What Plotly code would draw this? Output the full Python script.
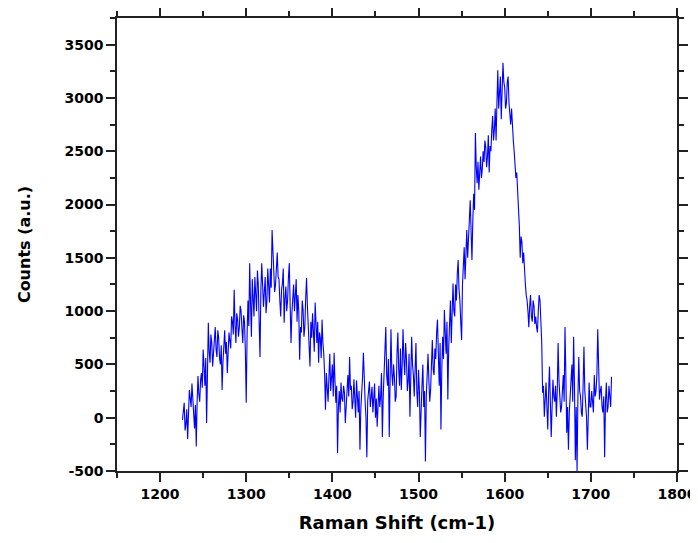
import plotly.graph_objects as go

# Raman shift grid (cm-1), 1 cm-1 step
shift_start = 1226
shift_step = 1

counts = [
    -20, 60, 140, -120, -60, 80, -200, 40, 260, 180, 100, 320, 200, 10, -100, 120, -270, 150, 390, 220,
    150, 350, 420, 280, 640, 480, 300, 560, -50, 400, 890, 620, 515, 780, 700, 480, 600, 760, 850, 640,
    570, 820, 750, 560, 500, 680, 260, 520, 700, 820, 600, 710, 420, 640, 800, 720, 650, 950, 900, 780,
    1200, 880, 700, 980, 920, 760, 850, 1050, 1000, 840, 700, 960, 900, 620, 140, 780, 1100, 860, 1450, 1080,
    760, 1300, 1150, 950, 1320, 1120, 1000, 1380, 1250, 900, 570, 1200, 1450, 1250, 1040, 1180, 1320, 980, 1100, 1400,
    1250, 1080, 1400, 1220, 1760, 1500, 1420, 1180, 1250, 1380, 1550, 1320, 1300, 1100, 950, 1200, 1260, 1400, 890, 1120,
    1230, 1000, 1100, 1320, 1450, 1050, 700, 980, 1150, 1250, 1000, 1180, 1300, 900, 1150, 1000, 545, 850, 800, 1100,
    1010, 760, 850, 1120, 1310, 1050, 900, 650, 480, 900, 750, 980, 850, 620, 1080, 850, 700, 900, 515, 800,
    750, 560, 920, 700, 600, 400, 75, 420, 300, 150, 385, 600, 250, 380, 500, 200, 610, 350, 140, 300,
    -330, 100, 250, 50, 330, 180, 150, 300, 235, -50, 100, 320, 400, 200, 570, 260, 300, 80, 150, 360,
    200, 0, 350, 120, 50, 250, -300, 80, 200, 380, 610, 300, 150, 0, -370, 160, 250, 340, 100, 220,
    290, 50, 150, 320, 0, 180, -85, 250, 300, 100, 200, 420, -180, 200, 450, 600, 850, 400, 300, 550,
    -180, 350, 830, 420, 300, 500, 385, 150, 200, 600, 800, 450, 300, 650, 260, 500, 830, 550, 400, 700,
    550, 250, 350, 600, 10, 380, 760, 500, 400, 200, 550, 700, 250, 100, 450, 250, -180, 150, 300, 500,
    100, 250, -410, 200, 480, 600, 350, 150, 260, 500, 730, 450, 400, 650, 550, 800, 920, 600, 300, 700,
    -110, 450, 760, 550, 1010, 800, 600, 900, 170, 650, 920, 1100, 700, 950, 1260, 1000, 950, 1250, 1100, 1350,
    1480, 1200, 1100, 900, 730, 1250, 1420, 1600, 1300, 1550, 1760, 1500, 1650, 1900, 2040, 1750, 1480, 1850, 2100, 1950,
    2670, 2350, 2200, 2400, 2140, 2300, 2450, 2250, 2330, 2500, 2400, 2600, 2540, 2350, 2450, 2650, 2300, 2550, 2500, 2700,
    2830, 2600, 2700, 2900, 2600, 2950, 3260, 2900, 3050, 3200, 2800, 3050, 3330, 3150, 3100, 2900, 2950, 3150, 3200, 2950,
    2830, 2750, 2900, 2700, 2600, 2500, 2400, 2250, 2300, 2150, 2017, 1800, 1500, 1700, 1650, 1450, 1550, 1350, 1250, 1150,
    1100, 1000, 850, 1050, 1150, 950, 900, 1100, 1050, 880, 950, 850, 800, 1000, 1150, 1100, 950, 700, 234, 300,
    10, 200, 330, 100, -110, 250, 480, 150, -180, 100, 356, 200, 150, 300, 10, 250, 700, 350, 200, 50,
    100, 300, 400, 150, 850, 400, -140, 100, -300, 50, 234, 350, 500, 150, 760, 300, -400, 100, -500, 200,
    570, 250, 200, 50, 10, 300, 665, 250, 150, 0, -300, 150, 330, 100, 100, 250, 170, 50, 400, 200,
    250, 400, 830, 300, 170, 250, 300, 100, 50, 200, -370, 150, 330, 50, 100, 300, 170, 100, 385,
]
raman_shift = [shift_start + shift_step * i for i in range(len(counts))]

x_tickvals = [1200, 1300, 1400, 1500, 1600, 1700, 1800]
x_ticktext = ["1200", "1300", "1400", "1500", "1600", "1700", "1800"]
y_tickvals = [-500, 0, 500, 1000, 1500, 2000, 2500, 3000, 3500]
y_ticktext = ["-500", "0", "500", "1000", "1500", "2000", "2500", "3000", "3500"]

FONT = "DejaVu Sans"

fig = go.Figure()
fig.add_trace(go.Scatter(
    x=raman_shift, y=counts, mode="lines",
    line=dict(color="#0000FF", width=1.1),
    showlegend=False, hoverinfo="x+y",
))

axis_common = dict(
    showline=True, linecolor="#222222", linewidth=1.5,
    mirror="ticks", ticks="outside", ticklen=9, tickwidth=1.5, tickcolor="#222222",
    showgrid=False, zeroline=False, automargin=False,
    tickfont=dict(family=FONT, size=14, color="#000000", weight="bold"),
)

fig.update_xaxes(
    range=[1150, 1800], tickmode="array", tickvals=x_tickvals, ticktext=x_ticktext,
    minor=dict(dtick=50, tick0=1150, ticks="outside", ticklen=5, tickwidth=1.5, tickcolor="#222222"),
    title=dict(text="<b>Raman Shift (cm-1)</b>", font=dict(family=FONT, size=18, color="#000000"), standoff=16),
    **axis_common,
)
fig.update_yaxes(
    range=[-500, 3750], tickmode="array", tickvals=y_tickvals, ticktext=y_ticktext,
    minor=dict(dtick=250, tick0=0, ticks="outside", ticklen=5, tickwidth=1.5, tickcolor="#222222"),
    title=dict(text="<b>Counts (a.u.)</b>", font=dict(family=FONT, size=16, color="#000000"), standoff=30),
    **axis_common,
)

# page body adds an 8px offset, so the figure is sized to fit the 698x543 window
fig.update_layout(
    width=690, height=535,
    margin=dict(l=109, r=21, t=10, b=72),
    paper_bgcolor="#FFFFFF", plot_bgcolor="#FFFFFF",
)

fig.write_html("out.html")
